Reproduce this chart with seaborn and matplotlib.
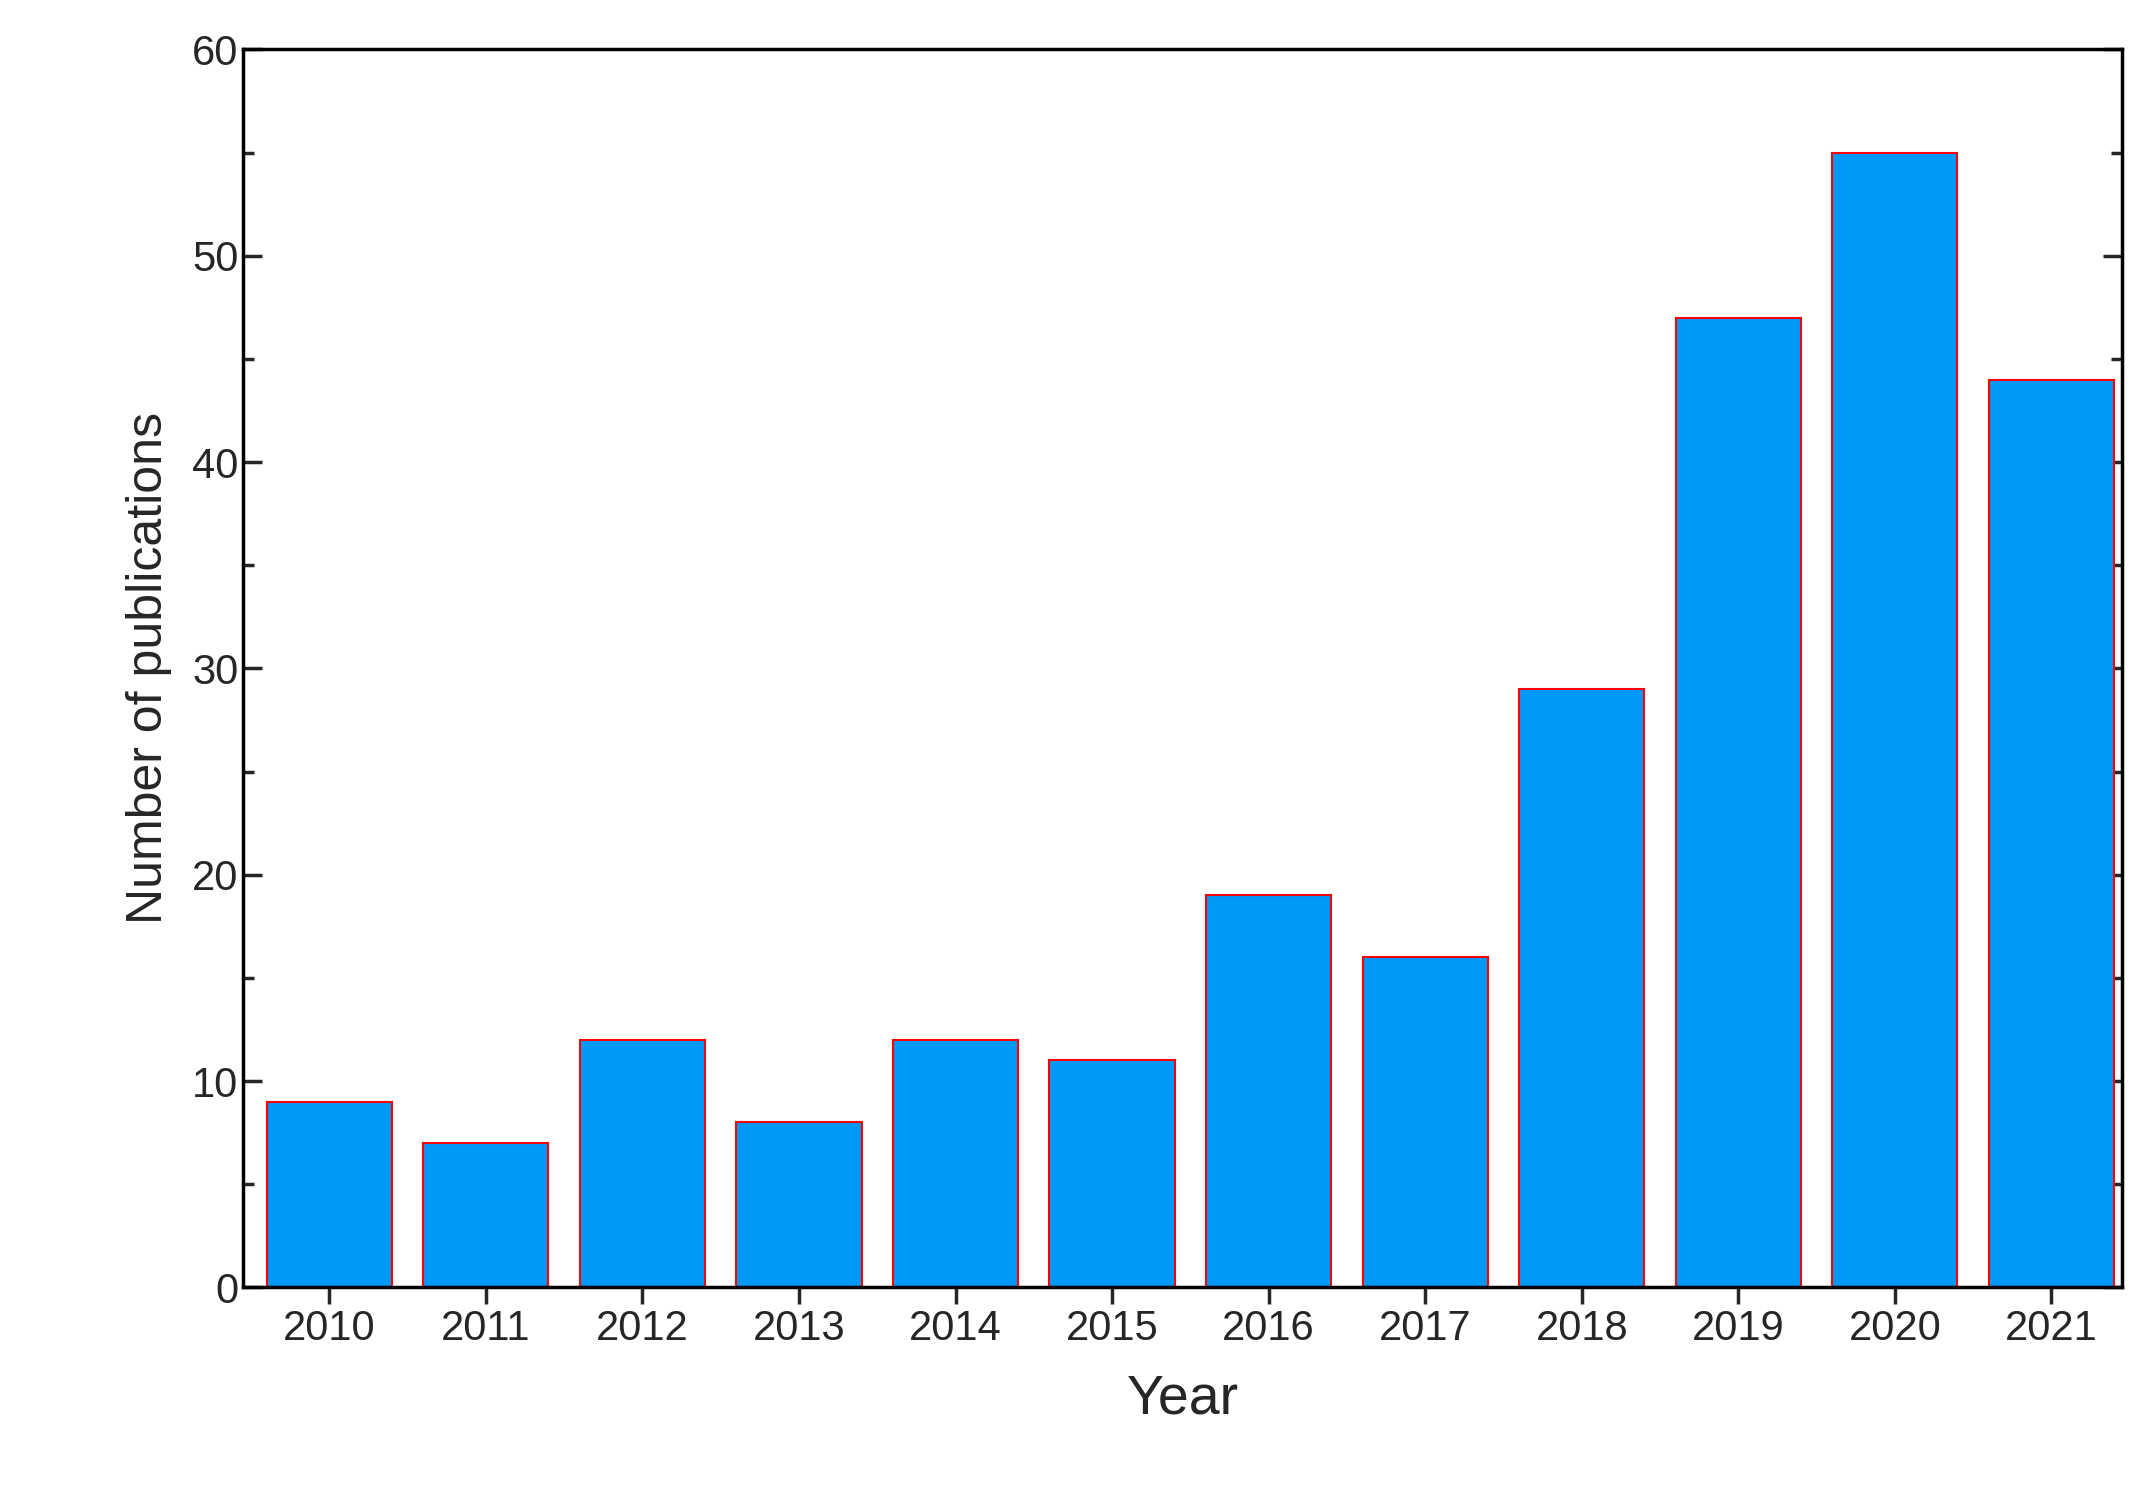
import matplotlib
matplotlib.use("Agg")
import matplotlib.pyplot as plt
import seaborn as sns
import pandas as pd
from matplotlib.ticker import MultipleLocator

years = ["2010", "2011", "2012", "2013", "2014", "2015",
         "2016", "2017", "2018", "2019", "2020", "2021"]
counts = [9, 7, 12, 8, 12, 11, 19, 16, 29, 47, 55, 44]

df = pd.DataFrame({"Year": years, "Count": counts})

sns.set_style("ticks")
plt.rcParams["font.family"] = ["Liberation Sans", "DejaVu Sans"]

fig = plt.figure(figsize=(21.52, 14.97), dpi=100)
ax = fig.add_axes([0.113, 0.14, 0.873, 0.827])

sns.barplot(data=df, x="Year", y="Count", color="#0099F8", saturation=1,
            edgecolor="red", linewidth=1.5, width=0.8, ax=ax)

ax.set_xlim(-0.55, 11.45)
ax.set_ylim(0, 60)
ax.yaxis.set_major_locator(MultipleLocator(10))
ax.yaxis.set_minor_locator(MultipleLocator(5))

for s in ax.spines.values():
    s.set_visible(True)
    s.set_linewidth(2.5)
    s.set_color("black")

ax.tick_params(axis="y", which="both", direction="in", left=True, right=True,
               width=2.5, labelsize=30)
ax.tick_params(axis="y", which="major", length=14)
ax.tick_params(axis="y", which="minor", length=8)
ax.tick_params(axis="x", direction="out", length=12, width=2.5, labelsize=30,
               top=False)

ax.set_xlabel("Year", fontsize=40, labelpad=18)
ax.set_ylabel("Number of publications", fontsize=36, labelpad=14)

fig.savefig("out.png", dpi=100)
